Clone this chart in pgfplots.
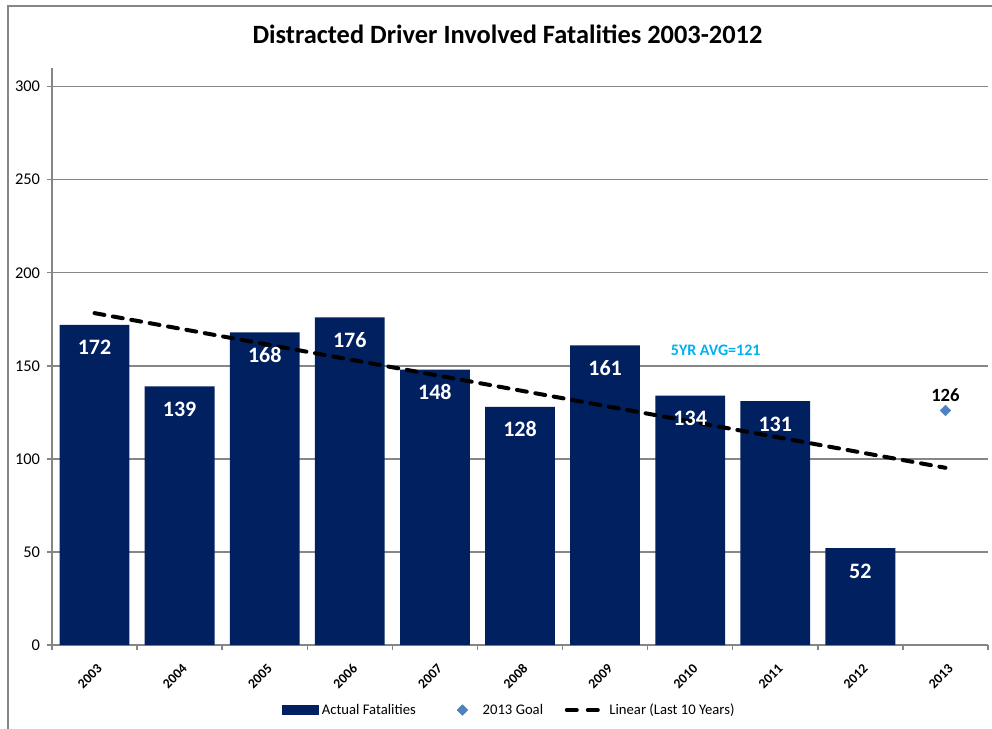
\documentclass[border=0pt]{standalone}
\usepackage{fontspec}
\setmainfont{Carlito}
\usepackage{pgfplots}
\pgfplotsset{compat=1.18}
\definecolor{navy}{HTML}{002060}
\definecolor{goal}{HTML}{4F81BD}
\definecolor{avg}{HTML}{00B0F0}
\definecolor{axisgray}{HTML}{868686}
\begin{document}
\begin{tikzpicture}
\useasboundingbox (-39pt,-62.25pt) rectangle (705pt,483.75pt);
\clip (-39pt,-62.25pt) rectangle (705pt,483.75pt);
\draw[axisgray, line width=1.5pt] (-33pt,-80pt) -- (-33pt,479.25pt) -- (720pt,479.25pt);
\node[anchor=base, font=\bfseries\fontsize{19.8}{22}\selectfont] at (341.6pt,451.3pt)
  {Distracted Driver Involved Fatalities 2003-2012};
\begin{axis}[
  at={(0,0)}, anchor=south west,
  width=702pt, height=432.75pt, scale only axis,
  xmin=-0.5, xmax=10.5, ymin=0, ymax=310,
  axis x line=bottom, axis y line=left,
  axis line style={-, draw=axisgray, line width=1.1pt},
  ytick={0,50,...,300},
  ymajorgrids, grid style={axisgray, line width=1.1pt},
  tick align=outside, major tick length=3.5pt,
  tick style={axisgray, line width=1.1pt},
  xtick={-0.5,0.5,...,10.5},
  x tick label as interval,
  xticklabels={2003,2004,2005,2006,2007,2008,2009,2010,2011,2012,2013},
  xticklabel style={font=\bfseries\fontsize{10.3}{11}\selectfont, rotate=45, anchor=north east, inner sep=1pt, yshift=-7pt, xshift=-5pt},
  yticklabel style={font=\fontsize{12.3}{14}\selectfont, xshift=-2pt},
  /pgf/number format/assume math mode=true,
  legend style={at={(0.489,-0.1127)}, anchor=center, draw=none, fill=none,
    legend columns=3, font=\fontsize{11}{13}\selectfont,
    /tikz/column 2/.style={column sep=26.75pt},
    /tikz/column 4/.style={column sep=12.75pt}},
]
\addplot[ybar, bar width=0.82, fill=navy, draw=none,
  nodes near coords,
  every node near coord/.append style={anchor=base, yshift=-22.5pt, text=white, font=\bfseries\fontsize{16.5}{18}\selectfont},
  legend image code/.code={\fill[navy] (0pt,-3.4pt) rectangle (27.75pt,3.4pt);}]
  coordinates {(0,172)(1,139)(2,168)(3,176)(4,148)(5,128)(6,161)(7,134)(8,131)(9,52)};
\addlegendentry{Actual Fatalities}
\addplot[only marks, mark=square*, mark size=2.8pt, goal, mark options={rotate=45, draw=goal, fill=goal},
  nodes near coords,
  every node near coord/.append style={anchor=base, yshift=7pt, text=black, font=\bfseries\fontsize{14}{16}\selectfont},
  legend image code/.code={\path (0pt,0pt) (19pt,0pt); \fill[goal] (6pt,0pt) +(0,3.96pt) -- +(3.96pt,0) -- +(0,-3.96pt) -- +(-3.96pt,0) -- cycle;}]
  coordinates {(10,126)};
\addlegendentry{2013 Goal}
\addplot[black, line width=3pt, dash pattern=on 7.5pt off 6.5pt, line cap=round,
  legend image code/.code={\path (0pt,0pt) (30pt,0pt); \draw[black, line width=3pt, line cap=round] (1.5pt,0pt) -- (9.75pt,0pt) (17.25pt,0pt) -- (25.5pt,0pt);}]
  coordinates {(0,178.3)(10,95.2)};
\addlegendentry{Linear (Last 10 Years)}
\node[anchor=base, text=avg, font=\bfseries\fontsize{12}{14}\selectfont] at (axis cs:7.30,155.7) {5YR AVG=121};
\end{axis}
\end{tikzpicture}
\end{document}
